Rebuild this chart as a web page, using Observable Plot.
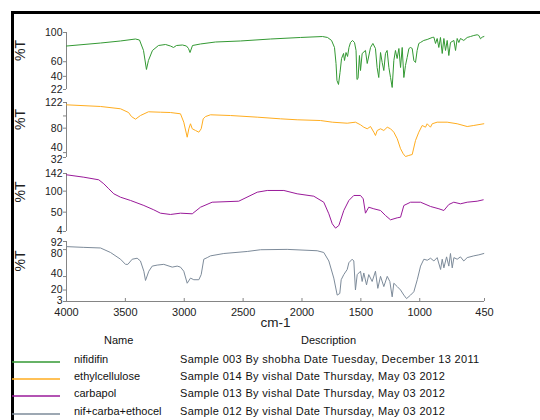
<!DOCTYPE html>
<html><head><meta charset="utf-8">
<script src="https://cdn.jsdelivr.net/npm/d3@7"></script>
<script src="https://cdn.jsdelivr.net/npm/@observablehq/plot@0.6"></script>
<style>
body{margin:0;background:#fff;width:540px;height:420px;overflow:hidden;position:relative;font-family:Arial,"Liberation Sans",sans-serif;}
#frame{position:absolute;left:11px;top:11px;width:700px;height:700px;border-top:3px solid #000;border-left:3px solid #000;box-sizing:border-box;}
.panel{position:absolute;left:0;}
.panel svg{overflow:visible;}
.lg{position:absolute;font-size:11px;line-height:13px;color:#111;white-space:nowrap;}
.desc{letter-spacing:0.33px;}
#swatches{position:absolute;left:0;top:0;}
</style></head>
<body>
<div id="frame"></div>
<div id="chart"></div>
<script>
// x ticks (wavenumber, cm-1)
const xTicks = [4000, 3500, 3000, 2500, 2000, 1500, 1000, 450];

// series names, descriptions, colours
const names = ["nifidifin", "ethylcellulose", "carbapol", "nif+carba+ethocel"];
const descriptions = [
  "Sample 003 By shobha Date Tuesday, December 13 2011",
  "Sample 014 By vishal Date Thursday, May 03 2012",
  "Sample 013 By vishal Date Thursday, May 03 2012",
  "Sample 012 By vishal Date Thursday, May 03 2012"
];
const colors = ["#339933", "#ffad1f", "#9a1a9a", "#7d8b9a"];

// y domains and ticks for each panel
const yDomains = [[22, 100], [32, 122], [4, 142], [3, 92]];
const yTicks = [[100, 60, 40, 22], [122, 100, 80, 40, 32], [142, 100, 50, 4], [92, 80, 40, 20, 3]];
const yTickLabels = [[100, 60, 40, 22], [122, 80, 40, 32], [142, 100, 50, 4], [92, 80, 40, 20, 3]];

// spectra: [wavenumber, %T]
const nifidifin = [[4000,81.5],[3711,85.6],[3541,88.4],[3414,91.1],[3380,89.7],[3346,75.4],[3321,49.4],[3304,61.7],[3270,75.4],[3219,82.2],[3159,83.6],[3117,81.5],[3091,79.5],[3066,82.2],[3015,82.9],[2981,81.5],[2964,78.1],[2951,72.6],[2930,82.2],[2862,84.3],[2735,87],[2522,88.4],[2267,91.1],[2013,93.2],[1826,94.5],[1783,93.2],[1749,89.1],[1724,79.5],[1711,57.6],[1703,34.3],[1690,28.9],[1677,45.3],[1664,64.4],[1647,71.3],[1639,61.7],[1626,72.6],[1613,67.2],[1601,79.5],[1588,86.3],[1571,89.1],[1554,86.3],[1541,75.4],[1533,35.7],[1524,37.1],[1512,68.5],[1503,48],[1489,71.3],[1461,75.4],[1446,57.6],[1418,79.5],[1398,85],[1376,78.1],[1362,52.1],[1348,38.4],[1333,72.6],[1319,59],[1305,48],[1291,71.3],[1277,75.4],[1262,52.1],[1248,38.4],[1234,24.8],[1220,61.7],[1206,75.4],[1192,64.4],[1177,78.1],[1163,52.1],[1149,79.5],[1135,38.4],[1121,54.9],[1107,65.8],[1092,78.1],[1078,79.5],[1064,78.1],[1050,61.7],[1036,59],[1022,75.4],[1008,85],[994,86.3],[966,89.1],[937,90.4],[894,93.2],[880,93.6],[866,85],[852,91.8],[838,79.5],[824,93.2],[809,71.3],[795,91.8],[781,75.4],[767,89.1],[753,68.5],[739,86.3],[710,89.1],[696,75.4],[682,91.8],[668,86.3],[654,91.8],[626,89.1],[597,93.2],[569,94.5],[541,95.9],[512,96.9],[498,95.9],[484,91.4],[470,93.6],[455,94.5]];

const ethylcellulose = [[4000,118.2],[3711,115.5],[3541,111.7],[3473,105.6],[3448,99],[3414,94.7],[3372,100.7],[3304,106.8],[3202,106.1],[3117,105.6],[3032,103.5],[3004,89.8],[2975,65.2],[2961,79],[2947,87.2],[2932,79],[2904,76.2],[2876,73.4],[2856,79],[2839,95.3],[2819,99],[2777,101.9],[2607,100.7],[2380,98],[2183,95.3],[2041,93.7],[1843,92.5],[1743,89.8],[1616,88.1],[1546,89.8],[1503,85.5],[1475,81.6],[1446,79],[1418,82.7],[1390,73.4],[1376,68],[1361,76.2],[1333,79],[1305,76.2],[1276,81.6],[1248,79],[1220,73.4],[1191,62.6],[1163,46.3],[1140,38],[1121,33.6],[1093,35.3],[1064,36.9],[1036,59.8],[1008,73.4],[979,84.4],[951,81.6],[937,87.2],[909,81.6],[894,87.2],[852,89.8],[767,89.8],[682,87.2],[597,82.7],[541,84.4],[456,87.2]];

const carbapol = [[4000,138.9],[3853,133.2],[3726,127],[3683,117.5],[3641,105.6],[3598,93.7],[3541,85.6],[3456,77.8],[3343,65.9],[3259,55.6],[3202,47.6],[3117,44.5],[3032,47.6],[2932,46.1],[2862,61.8],[2763,73.7],[2537,76.1],[2380,97.5],[2295,101.6],[2154,101.6],[2041,93.7],[1900,88],[1815,73.7],[1772,46.1],[1743,22.3],[1715,12],[1687,18.3],[1645,54],[1602,77.8],[1560,89.7],[1503,89.7],[1480,81.8],[1461,47.6],[1433,61.8],[1390,58],[1333,54],[1291,42.1],[1248,31.8],[1191,36.6],[1163,38],[1135,65.9],[1078,73.7],[993,73.7],[908,63.5],[837,58],[795,54],[753,68.2],[711,73.7],[654,69.9],[597,73.7],[512,76.1],[461,79.4]];

const nifCarbaEthocel = [[4000,84.4],[3853,83.3],[3711,82.4],[3626,75.7],[3541,65.7],[3499,58.1],[3479,58.1],[3442,65.7],[3400,67.2],[3372,63.1],[3343,47.9],[3329,34.2],[3301,47.9],[3272,55.5],[3230,57],[3174,58.1],[3102,54],[3060,55.5],[3032,54],[3004,47.9],[2975,30.1],[2947,37.7],[2919,35.3],[2876,35.3],[2856,42.9],[2834,65.7],[2805,68.1],[2777,70.7],[2664,74.2],[2465,77.2],[2352,79.8],[2126,80.3],[1871,78.3],[1815,75.7],[1772,63.1],[1730,37.7],[1701,12.5],[1679,14.9],[1667,35.3],[1645,42.9],[1616,50.5],[1602,60.5],[1574,65.7],[1560,63.1],[1546,20.1],[1531,42.9],[1503,47.9],[1489,32.7],[1475,45.3],[1452,27.7],[1433,42.9],[1404,32.7],[1376,47.9],[1356,22.5],[1333,40.3],[1305,25.1],[1276,40.3],[1254,32.7],[1234,9.9],[1220,30.1],[1191,25.1],[1163,20.1],[1135,12.5],[1112,7.3],[1078,12.5],[1050,17.5],[1021,35.3],[993,55.5],[965,65.7],[936,64.2],[908,67.2],[880,63.1],[852,68.1],[823,50.5],[809,65.7],[795,52.9],[772,69.2],[753,55.5],[739,74.2],[724,52.9],[710,68.1],[682,65.7],[654,69.2],[626,63.1],[597,68.1],[541,70.7],[498,72.2],[456,74.2]];

const spectra = [nifidifin, ethylcellulose, carbapol, nifCarbaEthocel];

// layout (pixels)
const panelTop = [32, 102, 173, 241];
const panelBottom = [89, 157, 231, 301];
const labelNudge = [{}, {40: -5, 32: 2}, {4: -1}, {92: 1, 80: 4, 40: -3, 3: -1}];
const W = 540, ML = 66, MR = 56, PAD = 4;
const axisGray = "#858585", textCol = "#222";

const chart = document.getElementById("chart");
spectra.forEach((data, i) => {
  const last = i === spectra.length - 1;
  const mb = last ? 34 : PAD;
  const h = panelBottom[i] - panelTop[i] + PAD + mb;
  const marks = [
    Plot.ruleX([4000], {stroke: axisGray}),
    Plot.axisY({ticks: yTicks[i], tickSize: 3, stroke: axisGray, tickFormat: () => "", label: null}),
    Plot.line(data, {x: d => d[0], y: d => d[1], stroke: colors[i], strokeWidth: 1}),
    Plot.text(["%T"], {text: d => d, frameAnchor: "left", dx: -46, rotate: -90, fontSize: 14, fill: textCol})
  ];
  // tick labels, grouped by vertical nudge
  const groups = d3.group(yTickLabels[i], t => labelNudge[i][t] || 0);
  for (const [dy, ticks] of groups) {
    marks.push(Plot.text(ticks, {x: () => 4000, y: d => d, text: d => String(d), dx: -4, dy, textAnchor: "end", fontSize: 10.5, fill: textCol}));
  }
  if (last) {
    marks.push(Plot.ruleY([yDomains[i][0]], {stroke: axisGray}));
    marks.push(Plot.axisX({ticks: xTicks, tickSize: -3, tickPadding: 10, stroke: axisGray, fill: textCol, fontSize: 11, label: null, tickFormat: d => String(d)}));
    marks.push(Plot.text(["cm-1"], {text: d => d, frameAnchor: "bottom", dy: 25, fontSize: 13.5, fill: textCol}));
  } else {
    marks.push(Plot.axisX({ticks: [], label: null}));
  }
  const svg = Plot.plot({
    width: W, height: h,
    marginLeft: ML, marginRight: MR, marginTop: PAD, marginBottom: mb,
    x: {domain: [4000, 450]},
    y: {domain: yDomains[i]},
    style: {fontFamily: "Arial, 'Liberation Sans', sans-serif", fontSize: "11px", background: "transparent", overflow: "visible", color: textCol},
    marks
  });
  const wrap = document.createElement("div");
  wrap.className = "panel";
  wrap.style.top = (panelTop[i] - PAD) + "px";
  wrap.appendChild(svg);
  chart.appendChild(wrap);
});

// legend table
function addText(txt, left, top, cls) {
  const d = document.createElement("div");
  d.className = "lg" + (cls ? " " + cls : ""); d.textContent = txt;
  d.style.left = left + "px"; d.style.top = top + "px";
  document.body.appendChild(d);
}
addText("Name", 104, 334);
addText("Description", 301, 334);
const sw = d3.select("body").append("svg").attr("id", "swatches").attr("width", 70).attr("height", 420);
names.forEach((n, i) => {
  const top = 353 + i * 17.2;
  const y = Math.round(top + 8) + 1;
  sw.append("line").attr("x1", 12).attr("x2", 60).attr("y1", y).attr("y2", y)
    .attr("stroke", colors[i]).attr("stroke-width", 1.6);
  addText(n, 74, top);
  addText(descriptions[i], 180, top, "desc");
});
</script>
</body></html>
